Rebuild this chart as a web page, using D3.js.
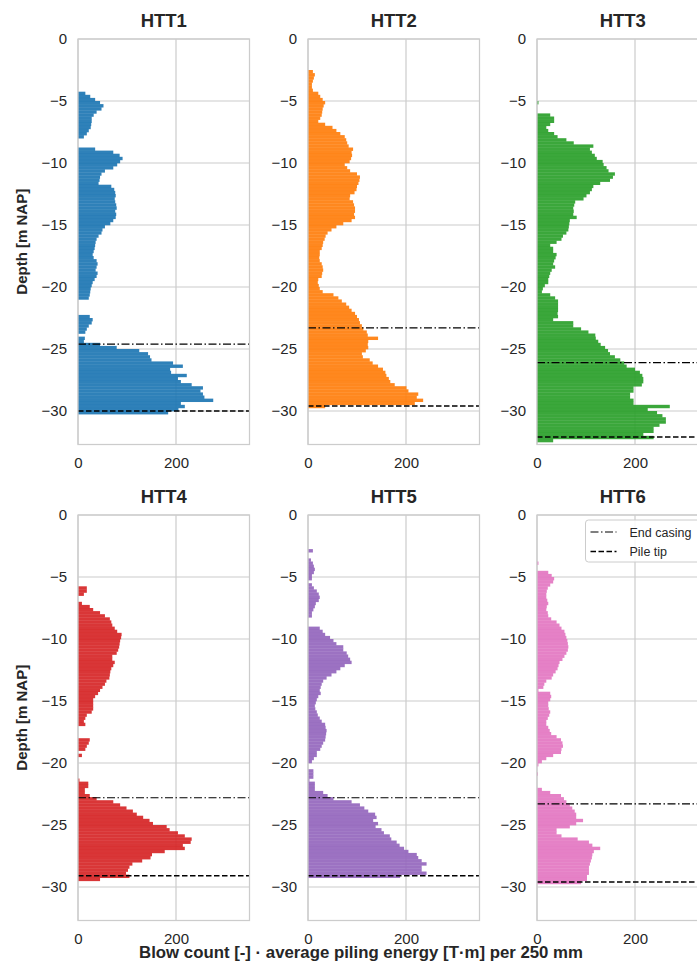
<!DOCTYPE html>
<html>
<head>
<meta charset="utf-8">
<script src="https://cdn.jsdelivr.net/npm/d3@7"></script>
<style>
  body { margin: 0; background: #fff; }
  text { font-family: "Liberation Sans", Arial, sans-serif; fill: #262626; }
</style>
</head>
<body>
<div id="chart"></div>
<script>
// depth step of one record (per 250 mm)
var step = 0.25;

var panels = ["HTT1", "HTT2", "HTT3", "HTT4", "HTT5", "HTT6"];
var colors = ["#1f77b4", "#ff7f0e", "#2ca02c", "#d62728", "#9467bd", "#e377c2"];

// depth (m below NAP) of the first record in each panel
var startDepth = [4.25, 2.5, 5.0, 5.75, 2.75, 3.75];

var htt1 = [15,25,35,45,52,48,38,32,28,28,27,26,22,18,12,0,0,0,35,72,85,91,86,80,72,55,48,45,44,42,
  68,74,76,77,75,76,78,79,76,78,77,72,66,55,50,48,42,38,36,35,34,32,30,32,38,40,38,36,40,38,
  34,30,28,26,25,24,22,0,0,0,0,0,24,30,28,22,18,15,0,14,12,45,79,125,143,147,150,194,214,188,
  190,222,204,210,232,255,250,255,258,276,210,218,205,184];
var htt2 = [10,14,12,10,8,8,10,21,25,30,35,32,30,29,28,25,21,35,50,58,66,75,78,80,83,92,89,90,88,85,
  75,80,86,100,106,105,103,100,99,95,86,85,92,94,96,96,94,96,89,72,58,48,40,36,34,31,30,28,24,24,
  23,24,28,30,31,29,28,21,20,22,24,30,52,62,69,78,84,89,96,100,104,106,110,113,120,122,143,123,122,123,
  118,110,112,126,132,143,153,158,160,165,168,177,201,205,225,222,235,218,35];
var htt3 = [3,0,0,0,27,35,35,27,19,23,35,42,60,75,115,108,112,118,122,134,136,142,146,159,155,149,129,115,112,108,
  101,95,78,76,74,75,74,81,67,66,65,64,60,53,50,40,27,33,33,40,38,35,33,37,30,27,25,23,23,16,
  12,10,27,37,43,43,43,43,42,43,33,74,74,90,105,119,120,125,130,139,145,149,159,170,178,183,200,210,215,217,
  217,214,197,197,190,190,197,197,271,226,245,256,263,263,250,238,238,217,238,33];
var htt4 = [18,18,12,0,0,8,24,31,45,55,65,68,70,75,80,89,88,86,85,84,82,79,70,70,75,72,68,66,65,64,
  58,55,50,45,41,35,31,31,31,31,28,18,15,12,15,0,0,0,0,24,22,18,15,0,8,0,0,0,0,0,
  0,0,3,21,21,14,14,24,38,72,86,99,112,120,133,146,153,181,187,204,218,232,230,214,218,177,151,148,131,111,
  105,102,98,105,45];
var htt5 = [10,0,0,6,10,12,14,12,8,8,0,8,12,18,22,24,22,16,14,11,8,8,0,0,0,24,30,35,45,52,
  58,72,72,79,82,86,89,75,66,58,48,38,31,28,26,24,26,21,18,16,14,15,18,20,24,28,35,36,38,37,
  36,35,31,28,25,18,18,12,8,0,0,11,11,11,3,14,14,14,31,40,52,89,106,115,123,137,140,133,143,138,
  150,155,167,170,181,187,196,205,222,225,232,242,232,232,242,188];
var htt6 = [3,0,0,23,30,35,33,27,22,20,19,19,21,23,20,19,22,23,29,40,46,50,56,58,60,62,63,64,63,60,
  56,52,46,44,42,38,33,30,19,15,13,3,27,29,27,23,23,24,27,25,22,19,19,23,26,29,40,49,52,53,
  50,49,33,19,10,3,0,0,2,0,0,0,0,10,27,49,55,60,67,72,77,80,80,94,80,67,40,40,50,83,
  106,113,129,116,113,112,110,108,106,106,106,102,102,90];
var values = [htt1, htt2, htt3, htt4, htt5, htt6];

var endCasing = [-24.6, -23.3, -26.1, -22.8, -22.8, -23.3];
var pileTip = [-30.0, -29.6, -32.1, -29.1, -29.1, -29.6];

var xTicks = [0, 200];
var yTicks = [0, -5, -10, -15, -20, -25, -30];

var W = 697, H = 962;
var lefts = [78, 308, 537];
var tops = [39, 515];
var pw = 171.5, ph = 405.5;

var svg = d3.select("#chart").append("svg")
  .attr("width", W)
  .attr("height", H);

var x = d3.scaleLinear().domain([0, 350]).range([0, pw]);
var y = d3.scaleLinear().domain([-32.7, 0]).range([ph, 0]);

panels.forEach(function(name, p) {
  var g = svg.append("g")
    .attr("transform", "translate(" + lefts[p % 3] + "," + tops[Math.floor(p / 3)] + ")");

  // grid
  g.selectAll(".hgrid").data(yTicks).enter().append("line")
    .attr("x1", 0).attr("x2", pw)
    .attr("y1", function(d) { return y(d); }).attr("y2", function(d) { return y(d); })
    .attr("stroke", "#cccccc").attr("stroke-width", 1.2);
  g.selectAll(".vgrid").data(xTicks).enter().append("line")
    .attr("y1", 0).attr("y2", ph)
    .attr("x1", function(d) { return x(d); }).attr("x2", function(d) { return x(d); })
    .attr("stroke", "#cccccc").attr("stroke-width", 1.2);

  var rows = values[p].map(function(v, i) {
    return { top: -(startDepth[p] + i * step), v: v };
  });

  g.selectAll(".bar").data(rows.filter(function(d) { return d.v > 0; })).enter().append("rect")
    .attr("x", x(0))
    .attr("y", function(d) { return y(d.top); })
    .attr("width", function(d) { return x(d.v) - x(0); })
    .attr("height", function(d) { return y(d.top - step) - y(d.top) + 0.3; })
    .attr("fill", colors[p])
    .attr("fill-opacity", 0.93);

  // end casing / pile tip
  g.append("line")
    .attr("x1", 0).attr("x2", pw)
    .attr("y1", y(endCasing[p])).attr("y2", y(endCasing[p]))
    .attr("stroke", "#000").attr("stroke-width", 1.2)
    .attr("stroke-dasharray", "8,2.5,1.5,2.5");
  g.append("line")
    .attr("x1", 0).attr("x2", pw)
    .attr("y1", y(pileTip[p])).attr("y2", y(pileTip[p]))
    .attr("stroke", "#000").attr("stroke-width", 1.5)
    .attr("stroke-dasharray", "5.5,2.5");

  // frame
  g.append("rect")
    .attr("width", pw).attr("height", ph)
    .attr("fill", "none").attr("stroke", "#cccccc").attr("stroke-width", 1.25);

  // axes
  var ay = g.append("g").call(d3.axisLeft(y).tickValues(yTicks).tickSize(0).tickPadding(11)
    .tickFormat(function(d) { return d === 0 ? "0" : "\u2212" + Math.abs(d); }));
  var ax = g.append("g").attr("transform", "translate(0," + ph + ")")
    .call(d3.axisBottom(x).tickValues(xTicks).tickSize(0).tickPadding(13));
  [ay, ax].forEach(function(a) {
    a.select(".domain").remove();
    a.selectAll("text").style("font-size", "15px").attr("fill", "#262626");
  });

  g.append("text")
    .attr("x", pw / 2).attr("y", -12)
    .attr("text-anchor", "middle")
    .style("font-size", "18.5px").style("font-weight", "bold")
    .text(name);

  if (p % 3 === 0) {
    g.append("text")
      .attr("transform", "translate(" + (-51) + "," + (y(-16.35)) + ") rotate(-90)")
      .attr("text-anchor", "middle")
      .style("font-size", "15px").style("font-weight", "bold")
      .text("Depth [m NAP]");
  }

  if (p === 5) {
    var lg = g.append("g").attr("transform", "translate(" + (pw - 123) + ",5)");
    lg.append("rect").attr("width", 118).attr("height", 42).attr("rx", 3)
      .attr("fill", "#fff").attr("fill-opacity", 0.85)
      .attr("stroke", "#cccccc").attr("stroke-width", 1);
    var items = [["End casing", "8,2.5,1.5,2.5", 1.2], ["Pile tip", "5.5,2.5", 1.5]];
    items.forEach(function(it, k) {
      var yy = 12 + k * 19.5;
      lg.append("line").attr("x1", 5).attr("x2", 31).attr("y1", yy).attr("y2", yy)
        .attr("stroke", "#000").attr("stroke-width", it[2]).attr("stroke-dasharray", it[1]);
      lg.append("text").attr("x", 44).attr("y", yy + 4.5)
        .style("font-size", "12.5px").text(it[0]);
    });
  }
});

svg.append("text")
  .attr("x", 361).attr("y", 958)
  .attr("text-anchor", "middle")
  .style("font-size", "16.8px").style("font-weight", "bold")
  .text("Blow count [-] \u00b7 average piling energy [T\u00b7m] per 250 mm");
</script>
</body>
</html>
